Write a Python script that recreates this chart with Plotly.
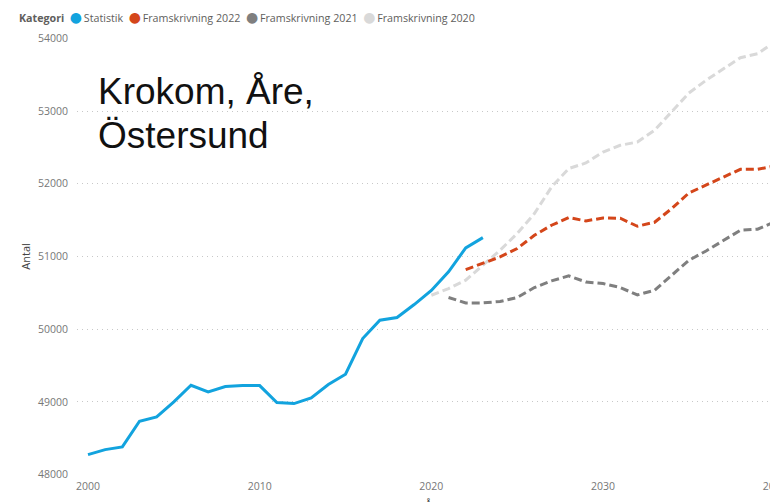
import plotly.graph_objects as go

# ---- data ----
years_stat = list(range(2000, 2024))
statistik = [48275, 48344, 48381, 48734, 48794, 49000, 49229, 49138, 49211, 49225,
             49225, 48991, 48977, 49055, 49239, 49381, 49872, 50124, 50161, 50339,
             50532, 50789, 51118, 51260]

years_f2022 = list(range(2022, 2041))
fram_2022 = [50820, 50903, 50994, 51109, 51292, 51430, 51535, 51489, 51530, 51526,
             51416, 51471, 51659, 51874, 51979, 52094, 52199, 52199, 52245]

years_f2021 = list(range(2021, 2041))
fram_2021 = [50436, 50362, 50362, 50381, 50436, 50573, 50664, 50733, 50650, 50628,
             50573, 50472, 50536, 50742, 50948, 51076, 51223, 51361, 51375, 51475]

years_f2020 = list(range(2020, 2041))
fram_2020 = [50467, 50559, 50674, 50880, 51086, 51316, 51590, 51956, 52209, 52286,
             52437, 52529, 52575, 52735, 52987, 53248, 53423, 53583, 53734, 53789,
             53950]

y_ticks = [48000, 49000, 50000, 51000, 52000, 53000, 54000]
x_ticks = [2000, 2010, 2020, 2030, 2040]

names = ["Statistik", "Framskrivning 2022", "Framskrivning 2021", "Framskrivning 2020"]
colors = ["#12A3DE", "#D4461A", "#7F7F7F", "#D9D9D9"]

FONT = "Open Sans, Noto Sans, DejaVu Sans, sans-serif"

fig = go.Figure()

fig.add_trace(go.Scatter(x=years_f2020, y=fram_2020, mode="lines", name=names[3],
                         line=dict(color=colors[3], width=3, dash="8px,4px")))
fig.add_trace(go.Scatter(x=years_f2021, y=fram_2021, mode="lines", name=names[2],
                         line=dict(color=colors[2], width=3, dash="8px,4px")))
fig.add_trace(go.Scatter(x=years_f2022, y=fram_2022, mode="lines", name=names[1],
                         line=dict(color=colors[1], width=3, dash="8px,4px")))
fig.add_trace(go.Scatter(x=years_stat, y=statistik, mode="lines", name=names[0],
                         line=dict(color=colors[0], width=3)))

# compact legend as text (title + coloured circle glyphs)
legend_parts = ["<b>Kategori</b>&nbsp;&nbsp;"]
for i, (n, c) in enumerate(zip(names, colors)):
    sep = "&nbsp;&nbsp;" if i < len(names) - 1 else ""
    legend_parts.append(
        f"<span style='color:{c};font-size:14px'>●</span>&#8201;{n}{sep}")
legend_text = "".join(legend_parts)

fig.update_layout(
    width=770, height=494,
    margin=dict(l=69, r=0, t=30, b=27, autoexpand=False),
    paper_bgcolor="white", plot_bgcolor="white",
    font=dict(family=FONT, size=11, color="#777777"),
    showlegend=False,
    xaxis=dict(
        range=[1999.36, 2040.19],
        tickmode="array", tickvals=x_ticks, ticktext=[str(v) for v in x_ticks],
        showgrid=False, zeroline=False, showline=False,
        tickfont=dict(size=10.5, color="#777777"),
        ticks="", automargin=False, ticklabeloverflow="allow",
        ticklabelstandoff=3,
    ),
    yaxis=dict(
        range=[47995, 54005],
        tickmode="array", tickvals=y_ticks, ticktext=[str(v) for v in y_ticks],
        showgrid=True, gridcolor="#C8C8C8", griddash="1px,4px", gridwidth=1,
        zeroline=False, showline=False,
        tickfont=dict(size=10.5, color="#777777"),
        ticks="", automargin=False, ticklabelstandoff=8,
    ),
    annotations=[
        dict(text=legend_text, xref="paper", yref="paper",
             x=-0.0856, y=1.050, xanchor="left", yanchor="middle", align="left",
             showarrow=False, font=dict(size=10.7, color="#605E5C")),
        dict(text="Krokom, Åre,", xref="paper", yref="paper",
             x=0.027, y=0.929, xanchor="left", yanchor="top", align="left",
             showarrow=False,
             font=dict(family="Liberation Sans, Arial, sans-serif", size=37, color="#111111")),
        dict(text="Östersund", xref="paper", yref="paper",
             x=0.027, y=0.828, xanchor="left", yanchor="top", align="left",
             showarrow=False,
             font=dict(family="Liberation Sans, Arial, sans-serif", size=37, color="#111111")),
        dict(text="Antal", xref="paper", yref="paper", x=-0.074, y=0.5,
             textangle=-90, showarrow=False, xanchor="center", yanchor="middle",
             font=dict(size=11, color="#444444")),
        dict(text="År", xref="x", yref="paper", x=2020, y=-0.044,
             xanchor="center", yanchor="top", showarrow=False,
             font=dict(size=11, color="#444444")),
    ],
)

fig.write_html("out.html")
